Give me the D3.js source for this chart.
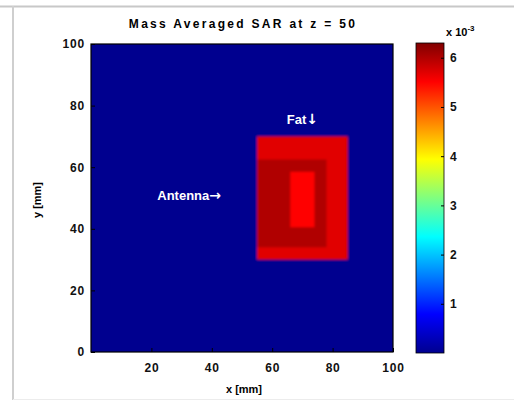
<!DOCTYPE html>
<html><head><meta charset="utf-8">
<script src="https://cdn.jsdelivr.net/npm/d3@7"></script>
<style>body{margin:0;background:#fff}svg{display:block}text{font-family:"Liberation Sans",Arial,sans-serif}</style>
</head><body>
<script>
// ---- data ----
const title = "Mass Averaged SAR at z = 50";
const xTicks = [20, 40, 60, 80, 100];
const yTicks = [0, 20, 40, 60, 80, 100];
const cbTicks = [1, 2, 3, 4, 5, 6];
const cbDomain = [0, 6.3];
// regions of the SAR map (data coords in mm), drawn in order
const regionX0 = [0, 55, 55, 66];
const regionX1 = [100, 85, 78, 74];
const regionY0 = [0, 30, 34, 40.5];
const regionY1 = [100, 70, 62.5, 58.5];
const regionVal = [0, 5.7, 6.0, 5.5];
const labels = [{t:"Fat", a:"\u2193", x:70, y:74}, {t:"Antenna", a:"\u2192", x:32.5, y:49.5}];

const W = 514, H = 402;
const svg = d3.select("body").append("svg").attr("width", W).attr("height", H);
svg.append("rect").attr("width", W).attr("height", H).attr("fill", "#fff");
// frame lines
svg.append("line").attr("x1",0).attr("x2",W).attr("y1",6.5).attr("y2",6.5).attr("stroke","#c8c8c8").attr("stroke-width",2);
svg.append("line").attr("x1",13).attr("x2",13).attr("y1",6).attr("y2",400).attr("stroke","#cfcfcf").attr("stroke-width",2);
svg.append("line").attr("x1",13).attr("x2",W).attr("y1",399.5).attr("y2",399.5).attr("stroke","#ececec").attr("stroke-width",1);

const L = 91, R = 393, T = 44, B = 352;
const x = d3.scaleLinear().domain([0, 100]).range([L, R]);
const y = d3.scaleLinear().domain([0, 100]).range([B, T]);

const jetStops = [[0,"#00008f"],[0.125,"#0000ff"],[0.375,"#00ffff"],[0.625,"#ffff00"],[0.875,"#ff0000"],[1,"#800000"]];
const jet = d3.scaleLinear().domain(jetStops.map(d => cbDomain[0] + d[0]*(cbDomain[1]-cbDomain[0]))).range(jetStops.map(d => d[1])).clamp(true);

const defs = svg.append("defs");
defs.append("clipPath").attr("id","clip").append("rect").attr("x",L).attr("y",T).attr("width",R-L).attr("height",B-T);
const f = defs.append("filter").attr("id","blur").attr("x","-5%").attr("y","-5%").attr("width","110%").attr("height","110%");
f.append("feGaussianBlur").attr("stdDeviation",1.0);

const regions = regionVal.map((v,i) => ({x0:regionX0[i], x1:regionX1[i], y0:regionY0[i], y1:regionY1[i], v}));
const map = svg.append("g").attr("clip-path","url(#clip)").append("g").attr("filter","url(#blur)");
map.append("rect").attr("x",L-5).attr("y",T-5).attr("width",R-L+10).attr("height",B-T+10).attr("fill",jet(0));
map.selectAll("rect.r").data(regions).enter().append("rect").attr("class","r")
  .attr("x", d => x(d.x0)).attr("y", d => y(d.y1))
  .attr("width", d => x(d.x1)-x(d.x0)).attr("height", d => y(d.y0)-y(d.y1))
  .attr("fill", d => jet(d.v));

// axes
const xAxis = d3.axisBottom(x).tickValues(xTicks).tickSize(-4).tickPadding(10);
const yAxis = d3.axisLeft(y).tickValues(yTicks).tickSize(-4).tickPadding(6);
const gx = svg.append("g").attr("transform",`translate(0,${B})`).call(xAxis);
const gy = svg.append("g").attr("transform",`translate(${L},0)`).call(yAxis);
[gx, gy].forEach(g => {
  g.select(".domain").remove();
  g.selectAll("line").attr("stroke","#000");
  g.selectAll("text").attr("font-size",12).attr("font-weight","bold").attr("letter-spacing","0.8").attr("fill","#111");
});
gx.selectAll("text").attr("dy","0.85em");
svg.append("rect").attr("x",L).attr("y",T).attr("width",R-L).attr("height",B-T).attr("fill","none").attr("stroke","#000").attr("stroke-width",1.2);

svg.append("text").attr("x",(L+R)/2+2).attr("y",393).attr("text-anchor","middle").attr("font-size",11).attr("font-weight","bold").text("x [mm]");
svg.append("text").attr("transform",`translate(41,${(T+B)/2 + 2}) rotate(-90)`).attr("text-anchor","middle").attr("font-size",11).attr("font-weight","bold").text("y [mm]");
svg.append("text").attr("x",243).attr("y",28).attr("text-anchor","middle").attr("font-size",12).attr("font-weight","bold").attr("letter-spacing","2.3").text(title);

// annotations
const ann = svg.selectAll("text.ann").data(labels).enter().append("text").attr("class","ann")
  .attr("x", d => x(d.x)).attr("y", d => y(d.y)).attr("text-anchor","middle")
  .attr("font-size",13).attr("font-weight","bold").attr("fill","#fff").text(d => d.t);
ann.append("tspan").attr("font-family","DejaVu Sans").attr("font-size",14).text(d => d.a);

// colorbar
const cbL = 416, cbR = 444, cbT = 43, cbB = 353;
const cy = d3.scaleLinear().domain(cbDomain).range([cbB, cbT]);
const grad = defs.append("linearGradient").attr("id","jet").attr("x1",0).attr("x2",0).attr("y1",1).attr("y2",0);
grad.selectAll("stop").data(jetStops).enter().append("stop").attr("offset", d => d[0]).attr("stop-color", d => d[1]);
svg.append("rect").attr("x",cbL).attr("y",cbT).attr("width",cbR-cbL).attr("height",cbB-cbT).attr("fill","url(#jet)").attr("stroke","#000").attr("stroke-width",0.8);
const gc = svg.append("g").attr("transform",`translate(${cbR},0)`).call(d3.axisRight(cy).tickValues(cbTicks).tickFormat(d3.format("d")).tickSize(-3).tickPadding(6));
gc.select(".domain").remove();
gc.selectAll("line").attr("stroke","#000");
gc.selectAll("text").attr("font-size",12).attr("font-weight","bold").attr("fill","#111");
svg.append("text").attr("x",446).attr("y",36).attr("font-size",11).attr("font-weight","bold").text("x 10").append("tspan").attr("dy",-5).attr("font-size",8).text("-3");
</script>
</body></html>
